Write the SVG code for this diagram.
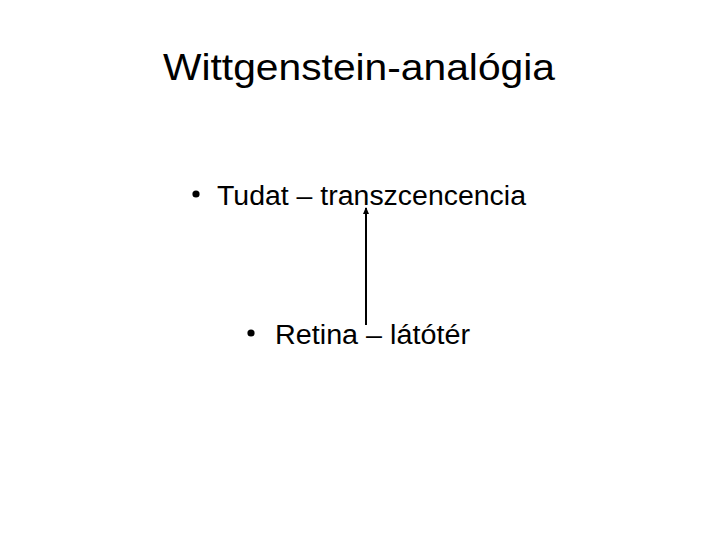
<svg xmlns="http://www.w3.org/2000/svg" width="720" height="540" viewBox="0 0 720 540">
<defs>
<style>
.t{font-family:"Liberation Sans","Open Sans",sans-serif;fill:#000}
.title{font-size:37px}
.b{font-size:27px}
.conn{stroke:#000;stroke-width:2;fill:none}
</style>
<marker id="ah" markerWidth="7" markerHeight="6" refX="6" refY="3" orient="auto" markerUnits="userSpaceOnUse">
<path d="M0,0 L7,3 L0,6 z" fill="#000"/>
</marker>
</defs>
<rect width="720" height="540" fill="#fff"/>
<g id="title"><text class="t title" x="163" y="80" textLength="392" lengthAdjust="spacingAndGlyphs">Wittgenstein-analógia</text></g>
<g id="node-tudat"><circle cx="196" cy="194" r="3.6" fill="#000"/><text class="t b" x="217" y="205" textLength="309" lengthAdjust="spacingAndGlyphs">Tudat – transzcencencia</text></g>
<g id="node-retina"><circle cx="251" cy="333" r="3.6" fill="#000"/><text class="t b" x="275" y="344" textLength="195" lengthAdjust="spacingAndGlyphs">Retina – látótér</text></g>
<g id="connectors"><line class="conn" x1="366" y1="325" x2="366" y2="208" marker-end="url(#ah)"/></g>
</svg>
